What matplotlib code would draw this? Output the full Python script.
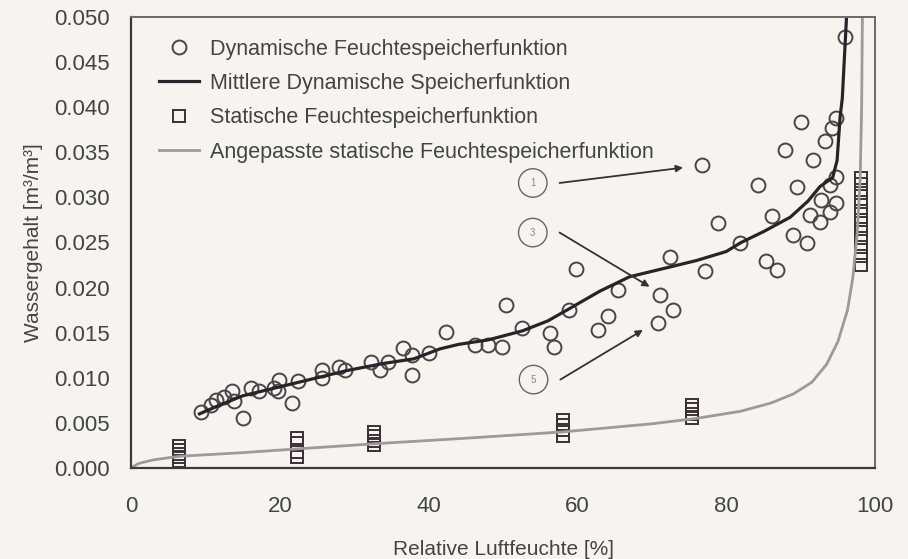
import matplotlib
matplotlib.use("Agg")
import matplotlib.pyplot as plt

plt.rcParams['font.family'] = ['Liberation Sans', 'DejaVu Sans']

# dynamische Messwerte (rel. Feuchte in %, Wassergehalt in m3/m3)
dyn_rh = [9.4, 10.7, 11.4, 12.5, 13.6, 13.9, 15.0, 16.1, 17.2, 19.2, 19.9, 19.7,
          21.7, 22.4, 25.7, 25.7, 28.0, 28.7, 32.3, 33.4, 34.5, 36.5, 37.8, 37.8,
          40.1, 42.4, 46.2, 48.0, 49.8, 50.4, 52.6, 56.3, 56.9, 58.9, 59.8, 62.7,
          64.1, 65.4, 70.8, 71.1, 72.4, 72.8, 76.7, 77.1, 78.9, 81.8, 84.3, 85.4,
          86.1, 86.8, 87.9, 89.0, 89.5, 90.1, 90.8, 91.3, 91.7, 92.6, 92.8, 93.3,
          93.9, 93.9, 94.2, 94.8, 94.8, 94.8, 96.0]
dyn_w = [0.0062, 0.0070, 0.0075, 0.0079, 0.0085, 0.0074, 0.0055, 0.0089, 0.0085,
         0.0089, 0.0098, 0.0085, 0.0072, 0.0096, 0.0109, 0.0100, 0.0112, 0.0109,
         0.0118, 0.0109, 0.0118, 0.0133, 0.0125, 0.0103, 0.0127, 0.0151, 0.0136,
         0.0136, 0.0134, 0.0181, 0.0155, 0.0150, 0.0134, 0.0175, 0.0221, 0.0153,
         0.0168, 0.0197, 0.0161, 0.0192, 0.0234, 0.0175, 0.0336, 0.0218, 0.0272,
         0.0249, 0.0314, 0.0229, 0.0279, 0.0220, 0.0353, 0.0258, 0.0312, 0.0384,
         0.0249, 0.0280, 0.0341, 0.0273, 0.0297, 0.0362, 0.0284, 0.0314, 0.0377,
         0.0294, 0.0323, 0.0388, 0.0478]

# mittlere dynamische Speicherfunktion
mean_rh = [9.2, 12, 15, 20, 25, 29, 34, 38, 41.5, 44, 48, 52.6, 56, 59, 63, 67,
           71, 76, 80, 82, 85, 88.6, 91, 92.6, 94.3, 94.9, 95.3, 95.6, 96.2]
mean_w = [0.0060, 0.0070, 0.0080, 0.0090, 0.0100, 0.0108, 0.0116, 0.0121, 0.0132,
          0.0137, 0.0142, 0.0152, 0.0163, 0.0177, 0.0196, 0.0212, 0.0220, 0.0230,
          0.0240, 0.0250, 0.0262, 0.0278, 0.0296, 0.0312, 0.0322, 0.0341, 0.0389,
          0.0410, 0.0505]

# statische Messwerte
stat_rh = [6.5] * 5 + [22.3] * 4 + [32.7] * 4 + [58.1] * 4 + [75.4] * 4 + [98.1] * 11
stat_w = [0.0008, 0.0012, 0.0016, 0.0020, 0.0024,
          0.0012, 0.0018, 0.0028, 0.0033,
          0.0025, 0.0030, 0.0035, 0.0040,
          0.0035, 0.0042, 0.0048, 0.0053,
          0.0055, 0.0060, 0.0065, 0.0070,
          0.0225, 0.0235, 0.0245, 0.0255, 0.0265, 0.0275, 0.0285, 0.0295,
          0.0305, 0.0315, 0.0322]

# angepasste statische Speicherfunktion
fit_rh = [0, 1, 3, 6.5, 15, 22, 33, 45, 58, 70, 76, 82, 86, 89, 91.5, 93.5, 95,
          96.3, 97, 97.6, 98.0, 98.2, 98.3]
fit_w = [0.0, 0.0005, 0.0009, 0.0013, 0.0017, 0.0021, 0.0027, 0.0033, 0.0040,
         0.0049, 0.0055, 0.0063, 0.0072, 0.0082, 0.0095, 0.0115, 0.0140, 0.0175,
         0.0210, 0.0260, 0.0320, 0.0400, 0.0500]

bg = '#f7f4ef'
fig = plt.figure(figsize=(9.08, 5.59), dpi=100, facecolor=bg)
ax = fig.add_axes([0.1443, 0.1628, 0.8194, 0.8068], facecolor=bg)

ax.plot(dyn_rh, dyn_w, 'o', ms=10, mfc='none', mec='#4a4448', mew=1.4,
        label='Dynamische Feuchtespeicherfunktion')
ax.plot(mean_rh, mean_w, '-', color='#2c2129', lw=2.3,
        label='Mittlere Dynamische Speicherfunktion')
ax.plot(stat_rh, stat_w, 's', ms=8, mfc='none', mec='#3a3036', mew=1.4,
        label='Statische Feuchtespeicherfunktion')
ax.plot(fit_rh, fit_w, '-', color='#9c9a9a', lw=2.0,
        label='Angepasste statische Feuchtespeicherfunktion')

# Markierungen 1, 3, 5 mit Pfeilen
for num, (cx, cy), (tx, ty) in [('1', (54.0, 0.0316), (74.2, 0.0333)),
                                ('3', (54.0, 0.0261), (69.7, 0.0201)),
                                ('5', (54.1, 0.0098), (68.8, 0.0153))]:
    ax.text(cx, cy, num, fontsize=7, color='#888', ha='center', va='center',
            bbox=dict(boxstyle='circle,pad=0.95', fc='none', ec='#666', lw=1.0))
    ax.annotate('', xy=(tx, ty), xytext=(cx + 3.6, cy),
                arrowprops=dict(arrowstyle='-|>', color='#333', lw=1.3,
                                mutation_scale=10, shrinkA=0, shrinkB=0))

ax.set_xlim(0, 100)
ax.set_ylim(0, 0.05)
ax.set_xticks([0, 20, 40, 60, 80, 100])
ax.set_yticks([0.0, 0.005, 0.01, 0.015, 0.02, 0.025, 0.03, 0.035, 0.04, 0.045, 0.05])
ax.set_yticklabels(['%.3f' % v for v in ax.get_yticks()])
ax.tick_params(axis='y', length=0, pad=15, labelsize=16, labelcolor='#444')
ax.tick_params(axis='x', length=0, pad=20, labelsize=16, labelcolor='#444')

for side in ['left', 'bottom']:
    ax.spines[side].set_color('#3a3a3a')
    ax.spines[side].set_linewidth(1.6)
for side in ['top', 'right']:
    ax.spines[side].set_color('#6a6a6a')
    ax.spines[side].set_linewidth(1.4)

ax.set_xlabel('Relative Luftfeuchte [%]', fontsize=15, color='#444', labelpad=17)
ax.set_ylabel('Wassergehalt [m³/m³]', fontsize=15, color='#444', labelpad=8)

ax.legend(loc='upper left', bbox_to_anchor=(0.012, 0.995), frameon=False,
          fontsize=15.5, numpoints=1, handlelength=1.85, handletextpad=0.5,
          labelspacing=0.62, borderaxespad=0.5, labelcolor='#444')

fig.savefig('out.png', dpi=100, facecolor=bg)
